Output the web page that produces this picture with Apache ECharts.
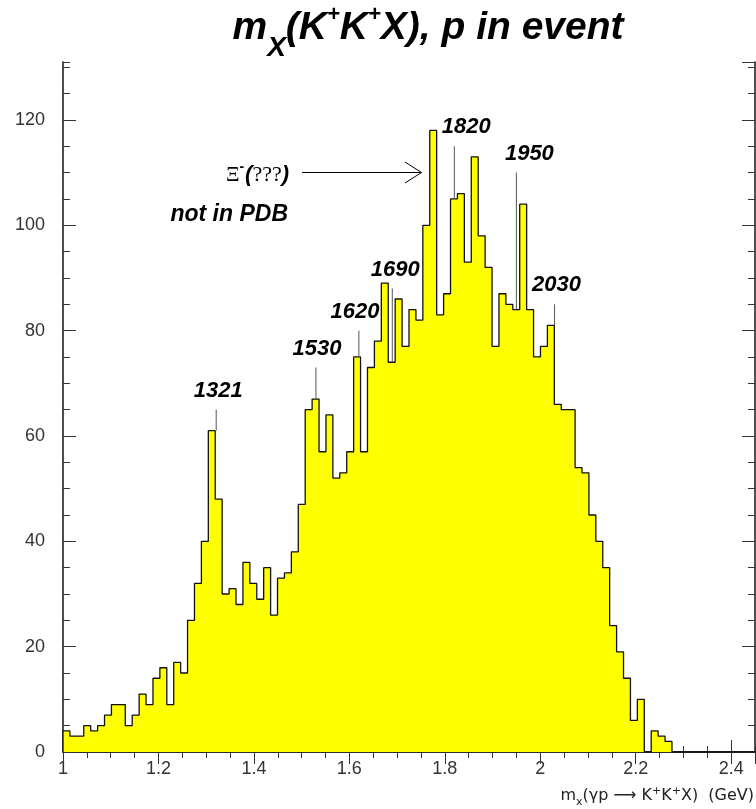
<!DOCTYPE html>
<html>
<head>
<meta charset="utf-8">
<script src="https://cdn.jsdelivr.net/npm/echarts@6/dist/echarts.min.js"></script>
<style>
html, body { margin: 0; padding: 0; background: #fff; }
#chart { width: 756px; height: 809px; }
</style>
</head>
<body>
<div id="chart"></div>
<script>
// histogram: 100 bins of 0.0145 GeV starting at 1.0
const binStart = 1.0;
const binWidth = 0.0145;
const counts = [
    4, 3, 3, 5, 4, 5, 7, 9, 9, 5,
    7, 11, 9, 14, 16, 9, 17, 15, 25, 32,
    40, 61, 48, 30, 31, 28, 36, 32, 29, 35,
    26, 33, 34, 38, 47, 65, 67, 57, 64, 52,
    53, 57, 75, 57, 73, 78, 89, 74, 86, 77,
    84, 82, 100, 118, 83, 87, 105, 106, 93, 113,
    98, 92, 77, 87, 85, 84, 104, 84, 75, 77,
    81, 66, 65, 65, 54, 53, 45, 40, 35, 24,
    19, 14, 6, 10, 0, 4, 3, 2, 0, 0,
    0, 0, 0, 0, 0, 0, 0, 0, 0, 0
];

// peak markers (mass in GeV, line from low to high count)
const markerLabels = ['1321', '1530', '1620', '1690', '1820', '1950', '2030'];
const markerMass = [1.321, 1.53, 1.62, 1.69, 1.82, 1.95, 2.03];
const markerLow = [61, 67, 75, 74, 105, 84, 81];
const markerHigh = [65, 73, 80, 88, 115, 110, 85];

const xMin = 1.0, xMax = 2.45;
const yMin = 0, yMax = 131;

// step outline points
const stepData = [[binStart, 0]];
counts.forEach((c, i) => stepData.push([binStart + i * binWidth, c]));
stepData.push([binStart + counts.length * binWidth, counts[counts.length - 1]]);

const labelDx = [2, 1, -4, 3, 12, 13, 2];
const font = '"Liberation Sans", Arial, sans-serif';
const serif = '"Liberation Serif", serif';

function xAxisDef(position, interval, len, showLine, showLabel) {
    return {
        type: 'value', position: position, min: xMin, max: xMax, interval: interval,
        axisLine: { show: showLine, lineStyle: { color: '#222', width: 1.6 } },
        axisTick: { show: true, inside: true, length: len, lineStyle: { color: '#333', width: 1 } },
        axisLabel: {
            show: showLabel, margin: 8, fontSize: 18, color: '#333', fontFamily: font,
            showMaxLabel: false
        },
        splitLine: { show: false }
    };
}
function yAxisDef(position, interval, len, showLine, showLabel) {
    return {
        type: 'value', position: position, min: yMin, max: yMax, interval: interval,
        axisLine: { show: showLine, lineStyle: { color: '#222', width: 1.6 } },
        axisTick: { show: true, inside: true, length: len, lineStyle: { color: '#333', width: 1 } },
        axisLabel: {
            show: showLabel, margin: 18, fontSize: 18, color: '#333', fontFamily: font,
            showMaxLabel: false
        },
        splitLine: { show: false }
    };
}

const chart = echarts.init(document.getElementById('chart'));
chart.setOption({
    animation: false,
    grid: { left: 63, right: 1, top: 62, bottom: 57 },
    xAxis: [
        xAxisDef('bottom', 0.2, 12, true, true),
        xAxisDef('top', 0.2, 12, true, false),
        xAxisDef('bottom', 0.05, 6, false, false),
        xAxisDef('top', 0.05, 6, false, false)
    ],
    yAxis: [
        yAxisDef('left', 20, 13, true, true),
        yAxisDef('right', 20, 13, true, false),
        yAxisDef('left', 5, 7, false, false),
        yAxisDef('right', 5, 7, false, false)
    ],
    series: [
        {
            type: 'line',
            step: 'end',
            data: stepData,
            symbol: 'none',
            xAxisIndex: 0,
            yAxisIndex: 0,
            lineStyle: { color: '#111', width: 1.3 },
            areaStyle: { color: '#ffff00', opacity: 1 },
            z: 2
        },
        {
            type: 'custom',
            xAxisIndex: 0,
            yAxisIndex: 0,
            data: markerMass.map((m, i) => [m, markerLow[i], markerHigh[i]]),
            renderItem: function (params, api) {
                const i = params.dataIndex;
                const lo = api.coord([api.value(0), api.value(1)]);
                const hi = api.coord([api.value(0), api.value(2)]);
                return {
                    type: 'group',
                    children: [
                        {
                            type: 'line',
                            shape: { x1: lo[0], y1: lo[1], x2: hi[0], y2: hi[1] },
                            style: { stroke: '#555', lineWidth: 1 }
                        },
                        {
                            type: 'text',
                            x: hi[0] + labelDx[i],
                            y: hi[1] - 19,
                            style: {
                                text: markerLabels[i], fill: '#000',
                                fontSize: 22, fontWeight: 'bold', fontStyle: 'italic', fontFamily: font,
                                align: 'center', verticalAlign: 'middle'
                            }
                        }
                    ]
                };
            },
            z: 3
        }
    ],
    graphic: [
        // title
        {
            type: 'text', x: 428, y: 28,
            style: {
                text: '{a|m}{sub|X}{a|(K}{sup|+}{a|K}{sup|+}{a|X), p in event}',
                align: 'center', verticalAlign: 'middle',
                rich: {
                    a: { fontSize: 39, fontWeight: 'bold', fontStyle: 'italic', fontFamily: font, lineHeight: 68, fill: '#000' },
                    sub: { fontSize: 28, fontWeight: 'bold', fontStyle: 'italic', fontFamily: font, lineHeight: 28, padding: [40, 0, 0, 0], verticalAlign: 'bottom', fill: '#000' },
                    sup: { fontSize: 22, fontWeight: 'bold', fontStyle: 'italic', fontFamily: font, lineHeight: 22, padding: [10, 0, 0, 0], verticalAlign: 'top', fill: '#000' }
                }
            }
        },
        // Xi annotation + arrow
        {
            type: 'text', x: 289, y: 175,
            style: {
                text: '{g|Ξ}{s|-}{p|(}{q|???}{p|)}',
                align: 'right', verticalAlign: 'middle',
                rich: {
                    g: { fontSize: 21, fontFamily: serif, fill: '#000', lineHeight: 30 },
                    s: { fontSize: 14, fontFamily: font, fontWeight: 'bold', fill: '#000', verticalAlign: 'top', lineHeight: 14, padding: [0, 1, 0, 0] },
                    p: { fontSize: 22, fontFamily: font, fontWeight: 'bold', fontStyle: 'italic', fill: '#000', lineHeight: 30 },
                    q: { fontSize: 22, fontFamily: serif, fill: '#000', lineHeight: 30 }
                }
            }
        },
        {
            type: 'line', shape: { x1: 302, y1: 172.5, x2: 421.5, y2: 172.5 },
            style: { stroke: '#000', lineWidth: 1 }
        },
        {
            type: 'polyline', shape: { points: [[405, 162], [421.5, 172.5], [405, 183]] },
            style: { stroke: '#000', lineWidth: 1, fill: null }
        },
        {
            type: 'text', x: 288, y: 215,
            style: {
                text: 'not in PDB', fill: '#000', fontSize: 23, fontWeight: 'bold', fontStyle: 'italic',
                fontFamily: font, align: 'right', verticalAlign: 'middle'
            }
        },
        // x axis title
        {
            type: 'text', x: 754, y: 796,
            style: {
                text: '{n|m}{s|x}{n|(γp }{n|⟶}{n| K}{u|+}{n|K}{u|+}{n|X)  (GeV)}',
                align: 'right', verticalAlign: 'middle',
                rich: {
                    n: { fontSize: 16, fontFamily: '"DejaVu Sans", sans-serif', fill: '#222', lineHeight: 24 },
                    s: { fontSize: 11, fontFamily: '"DejaVu Sans", sans-serif', fill: '#222', lineHeight: 11, verticalAlign: 'bottom', padding: [12, 0, 0, 0] },
                    u: { fontSize: 11, fontFamily: '"DejaVu Sans", sans-serif', fill: '#222', lineHeight: 11, verticalAlign: 'top', padding: [2, 0, 0, 0] }
                }
            }
        }
    ]
});

window.addEventListener('resize', () => chart.resize());
</script>
</body>
</html>
